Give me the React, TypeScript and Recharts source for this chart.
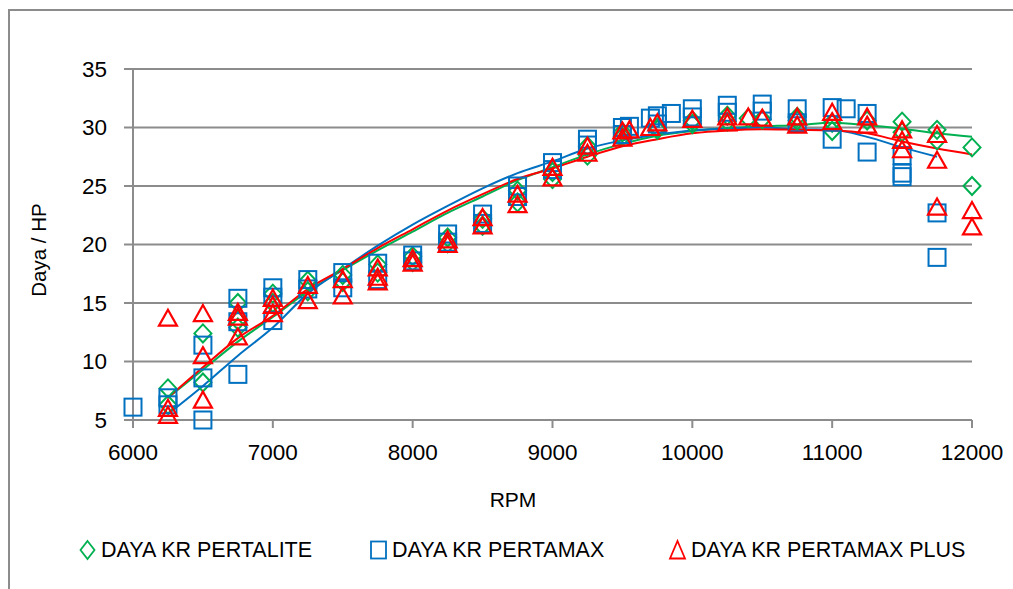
import React from "react";
import { ComposedChart, Scatter, Line, XAxis, YAxis, CartesianGrid, Legend } from "recharts";

const FONT = "'Liberation Sans', Arial, sans-serif";
const GREEN = "#00B050";
const BLUE = "#0070C0";
const RED = "#FF0000";
const GRID = "#8C8C8C";

const rpmTicks = [6000, 7000, 8000, 9000, 10000, 11000, 12000];
const hpTicks = [5, 10, 15, 20, 25, 30, 35];

// measured points: [rpm, hp]
const pertalite: [number, number][] = [
  [6250, 7.7], [6250, 6.3], [6500, 12.4], [6500, 8.2], [6750, 15.0], [6750, 13.5], [6750, 12.9],
  [7000, 15.8], [7000, 15.0], [7250, 16.9], [7250, 16.0], [7500, 17.4], [7500, 16.8],
  [7750, 18.3], [7750, 17.6], [8000, 19.0], [8000, 18.5], [8250, 20.6], [8250, 20.1],
  [8500, 22.2], [8500, 21.6], [8750, 24.6], [8750, 23.6], [9000, 26.2], [9000, 25.6],
  [9250, 28.4], [9250, 27.6], [9500, 29.6], [9500, 29.2], [9750, 30.0], [9750, 29.8],
  [10000, 30.6], [10000, 30.3], [10250, 31.0], [10250, 30.5], [10400, 30.8], [10500, 30.7],
  [10750, 30.9], [10750, 30.6], [11000, 30.4], [11000, 29.7], [11250, 30.6],
  [11500, 30.5], [11500, 29.6], [11750, 29.8], [11750, 28.9], [12000, 28.3], [12000, 25.0],
];

const pertamax: [number, number][] = [
  [6000, 6.1], [6250, 6.9], [6250, 6.3], [6500, 11.4], [6500, 8.6], [6500, 5.0],
  [6750, 15.4], [6750, 13.4], [6750, 8.9], [7000, 16.3], [7000, 15.5], [7000, 13.5],
  [7250, 17.0], [7250, 16.2], [7500, 17.6], [7500, 16.3], [7750, 18.4], [7750, 17.0],
  [8000, 19.1], [8000, 18.6], [8250, 20.9], [8250, 20.2], [8500, 22.6], [8500, 21.8],
  [8750, 25.0], [8750, 24.1], [9000, 27.0], [9000, 26.4], [9250, 29.0], [9250, 28.5],
  [9500, 30.0], [9500, 29.4], [9550, 30.1], [9700, 30.8], [9750, 31.0], [9750, 30.3],
  [9850, 31.2], [10000, 31.6], [10000, 30.9], [10250, 31.9], [10250, 31.3],
  [10500, 32.0], [10500, 31.4], [10750, 31.6], [10750, 30.4], [11000, 31.7], [11000, 29.0],
  [11100, 31.6], [11250, 31.2], [11250, 27.9], [11500, 27.6], [11500, 26.1], [11500, 25.8],
  [11750, 22.7], [11750, 18.9],
];

const pertamaxPlus: [number, number][] = [
  [6250, 13.7], [6250, 6.0], [6250, 5.4], [6500, 14.1], [6500, 10.5], [6500, 6.7],
  [6750, 14.2], [6750, 13.8], [6750, 12.1], [7000, 15.4], [7000, 14.8], [7000, 14.1],
  [7250, 16.5], [7250, 15.2], [7500, 17.0], [7500, 15.6], [7750, 18.0], [7750, 17.2], [7750, 16.8],
  [8000, 18.8], [8000, 18.4], [8250, 20.4], [8250, 20.0], [8500, 22.3], [8500, 21.6],
  [8750, 24.3], [8750, 23.4], [9000, 26.6], [9000, 25.7], [9250, 28.4], [9250, 27.8],
  [9500, 29.7], [9500, 29.1], [9550, 29.8], [9700, 30.0], [9750, 30.4], [10000, 30.7],
  [10250, 30.9], [10250, 30.4], [10400, 30.9], [10500, 30.8], [10750, 30.9], [10750, 30.2],
  [11000, 31.3], [11000, 30.5], [11250, 30.9], [11250, 30.2],
  [11500, 29.8], [11500, 28.9], [11500, 28.1], [11750, 29.4], [11750, 27.2], [11750, 23.2],
  [12000, 22.9], [12000, 21.5],
];

// polynomial trendlines, sampled every 250 rpm
const trendRpm = [
  6250, 6500, 6750, 7000, 7250, 7500, 7750, 8000, 8250, 8500, 8750, 9000,
  9250, 9500, 9750, 10000, 10250, 10500, 10750, 11000, 11250, 11500, 11750, 12000,
];
const pertaliteTrend = [
  6.9, 9.3, 11.7, 13.8, 16.0, 17.8, 19.5, 21.1, 22.7, 24.1, 25.5, 26.6,
  27.7, 28.6, 29.3, 29.7, 29.95, 30.1, 30.2, 30.4, 30.2, 29.9, 29.5, 29.2,
];
const pertamaxTrend = [
  5.5, 7.9, 10.5, 12.9, 15.8, 17.9, 19.9, 21.7, 23.3, 24.8, 26.1, 27.1,
  28.2, 28.9, 29.4, 29.75, 29.9, 30.0, 29.85, 29.8, 29.2, 28.3, 27.5,
];
const pertamaxPlusTrend = [
  6.9, 9.5, 12.0, 13.9, 16.2, 17.9, 19.7, 21.3, 22.9, 24.3, 25.6, 26.5,
  27.5, 28.4, 29.0, 29.5, 29.75, 29.85, 29.8, 29.75, 29.5, 28.8, 28.2, 27.7,
];

const toPoints = (rows: [number, number][]) => rows.map(([rpm, hp]) => ({ rpm, hp }));
const toTrend = (hp: number[]) => hp.map((v, i) => ({ rpm: trendRpm[i], hp: v }));

const Diamond = ({ cx, cy }: any) => (
  <path d={`M${cx},${cy - 9}L${cx + 8.5},${cy}L${cx},${cy + 9}L${cx - 8.5},${cy}Z`} fill="none" stroke={GREEN} strokeWidth={2} />
);
const Square = ({ cx, cy }: any) => (
  <rect x={cx - 8.5} y={cy - 8.5} width={17} height={17} fill="none" stroke={BLUE} strokeWidth={2} />
);
const Triangle = ({ cx, cy }: any) => (
  <path d={`M${cx},${cy - 8.5}L${cx + 9},${cy + 7.5}L${cx - 9},${cy + 7.5}Z`} fill="none" stroke={RED} strokeWidth={2.2} />
);

const legendItems = [
  { name: "DAYA KR PERTALITE", left: 78, icon: "diamond", color: GREEN },
  { name: "DAYA KR PERTAMAX", left: 369, icon: "square", color: BLUE },
  { name: "DAYA KR PERTAMAX PLUS", left: 668, icon: "triangle", color: RED },
];

const LegendIcon = ({ icon, color }: { icon: string; color: string }) => (
  <svg width={19} height={22} style={{ display: "block" }}>
    {icon === "diamond" && <path d="M9.5,2L16.5,11L9.5,20L2.5,11Z" fill="none" stroke={color} strokeWidth={1.8} />}
    {icon === "square" && <rect x={2} y={2.5} width={15} height={17} fill="none" stroke={color} strokeWidth={1.8} />}
    {icon === "triangle" && <path d="M9.5,2L17,19.5L2,19.5Z" fill="none" stroke={color} strokeWidth={1.8} />}
  </svg>
);

const renderLegend = () => (
  <div style={{ position: "relative", width: 1013, height: 40 }}>
    {legendItems.map((it) => (
      <div key={it.name} style={{ position: "absolute", left: it.left, top: 0, display: "flex", alignItems: "center", height: 40 }}>
        <LegendIcon icon={it.icon} color={it.color} />
        <span style={{ marginLeft: 4, fontFamily: FONT, fontSize: 21.5, color: "#000", whiteSpace: "nowrap" }}>{it.name}</span>
      </div>
    ))}
  </div>
);

export default function App() {
  return (
    <div style={{ position: "absolute", left: 0, top: 0, width: 1013, height: 589, overflow: "hidden", background: "#fff" }}>
      <div style={{ position: "absolute", left: 8, top: 9, width: 1020, height: 600, border: `2px solid ${GRID}`, boxSizing: "border-box" }} />
      <div style={{ position: "absolute", left: 0, top: 0 }}>
        <ComposedChart width={1013} height={589} margin={{ top: 69, right: 41, bottom: 99, left: 73 }}>
          <CartesianGrid vertical={false} stroke={GRID} strokeWidth={2} horizontalValues={[10, 15, 20, 25, 30, 35]} />
          <XAxis
            type="number"
            dataKey="rpm"
            domain={[6000, 12000]}
            ticks={rpmTicks}
            height={30}
            axisLine={{ stroke: GRID, strokeWidth: 2 }}
            tickLine={{ stroke: GRID, strokeWidth: 2 }}
            tickSize={8}
            tickMargin={16}
            tick={{ fill: "#000", fontSize: 22.5, fontFamily: FONT }}
            label={{
              content: () => (
                <text x={513} y={499} textAnchor="middle" dominantBaseline="central" fontFamily={FONT} fontSize={21} fill="#000">RPM</text>
              ),
            }}
          />
          <YAxis
            type="number"
            dataKey="hp"
            domain={[5, 35]}
            ticks={hpTicks}
            width={60}
            axisLine={{ stroke: GRID, strokeWidth: 2 }}
            tickLine={{ stroke: GRID, strokeWidth: 2 }}
            tickSize={9}
            tickMargin={17}
            tick={{ fill: "#000", fontSize: 22.5, fontFamily: FONT }}
            label={{
              content: () => (
                <text x={38} y={250} transform="rotate(-90 38 250)" textAnchor="middle" dominantBaseline="central" fontFamily={FONT} fontSize={20.5} fill="#000">Daya / HP</text>
              ),
            }}
          />
          <Legend content={renderLegend} wrapperStyle={{ left: 0, top: 530, width: 1013, height: 40 }} />
          <Scatter name="DAYA KR PERTALITE" data={toPoints(pertalite)} shape={Diamond} isAnimationActive={false} />
          <Scatter name="DAYA KR PERTAMAX" data={toPoints(pertamax)} shape={Square} isAnimationActive={false} />
          <Scatter name="DAYA KR PERTAMAX PLUS" data={toPoints(pertamaxPlus)} shape={Triangle} isAnimationActive={false} />
          <Line data={toTrend(pertaliteTrend)} dataKey="hp" type="monotone" stroke={GREEN} strokeWidth={2} dot={false} legendType="none" isAnimationActive={false} />
          <Line data={toTrend(pertamaxTrend)} dataKey="hp" type="monotone" stroke={BLUE} strokeWidth={2} dot={false} legendType="none" isAnimationActive={false} />
          <Line data={toTrend(pertamaxPlusTrend)} dataKey="hp" type="monotone" stroke={RED} strokeWidth={2} dot={false} legendType="none" isAnimationActive={false} />
        </ComposedChart>
      </div>
    </div>
  );
}
